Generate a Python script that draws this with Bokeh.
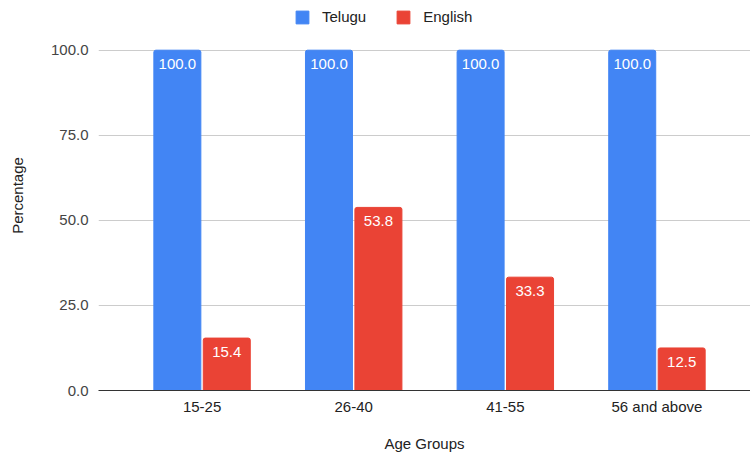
import numpy as np
from bokeh.plotting import figure
from bokeh.models import Range1d, FixedTicker, Legend, LegendItem, ColumnDataSource
from bokeh.core.properties import value
from bokeh.embed import file_html
from bokeh.resources import INLINE

categories = ["15-25", "26-40", "41-55", "56 and above"]
telugu = [100.0, 100.0, 100.0, 100.0]
english = [15.4, 53.8, 33.3, 12.5]
y_ticks = [0, 25, 50, 75, 100]

BLUE = "#4285F4"
RED = "#EA4335"
FONT = "Liberation Sans"
FS = "15px"

x = np.arange(len(categories))
p = figure(width=750, height=456, output_backend="svg", toolbar_location=None,
           x_range=Range1d(-0.683, 3.617), y_range=Range1d(0, 114.6),
           min_border_left=98, min_border_right=0, min_border_top=0, min_border_bottom=66)
p.outline_line_color = None

src_t = ColumnDataSource(dict(x=x - 0.163, top=telugu, lab=[f"{v:.1f}" for v in telugu]))
src_e = ColumnDataSource(dict(x=x + 0.163, top=english, lab=[f"{v:.1f}" for v in english]))
r1 = p.vbar(x="x", top="top", width=0.31, source=src_t, color=BLUE, border_radius=[2, 2, 0, 0])
r2 = p.vbar(x="x", top="top", width=0.31, source=src_e, color=RED, border_radius=[2, 2, 0, 0])
for s in (src_t, src_e):
    p.text(x="x", y="top", text="lab", source=s, text_color="white", text_font=value(FONT),
           text_font_size=FS, text_align="center", text_baseline="middle", y_offset=14)

p.xaxis.ticker = FixedTicker(ticks=list(x))
p.xaxis.major_label_overrides = {int(i): c for i, c in zip(x, categories)}
p.xaxis.major_tick_line_color = None
p.xaxis.minor_tick_line_color = None
p.xaxis.axis_line_color = "#333333"
p.xaxis.major_label_text_font = FONT
p.xaxis.major_label_text_font_size = FS
p.xaxis.major_label_text_color = "#222222"
p.xaxis.major_label_standoff = 1
p.xaxis.axis_label = "Age Groups"
p.xaxis.axis_label_text_font = FONT
p.xaxis.axis_label_text_font_size = FS
p.xaxis.axis_label_text_font_style = "normal"
p.xaxis.axis_label_text_color = "#222222"
p.xaxis.axis_label_standoff = 17
p.xgrid.grid_line_color = None

p.yaxis.ticker = FixedTicker(ticks=y_ticks)
p.yaxis.major_label_overrides = {t: f"{t:.1f}" for t in y_ticks}
p.yaxis.major_tick_line_color = None
p.yaxis.minor_tick_line_color = None
p.yaxis.axis_line_color = None
p.yaxis.major_label_text_font = FONT
p.yaxis.major_label_text_font_size = FS
p.yaxis.major_label_text_color = "#444444"
p.yaxis.major_label_standoff = 4
p.yaxis.axis_label = "Percentage"
p.yaxis.axis_label_text_font = FONT
p.yaxis.axis_label_text_font_size = FS
p.yaxis.axis_label_text_font_style = "normal"
p.yaxis.axis_label_text_color = "#222222"
p.yaxis.axis_label_standoff = 22
p.ygrid.grid_line_color = "#cccccc"

legend = Legend(items=[LegendItem(label="Telugu", renderers=[r1]), LegendItem(label="English", renderers=[r2])],
                orientation="horizontal", location=(196, 365), border_line_color=None,
                background_fill_alpha=0, label_text_font=FONT, label_text_font_size=FS,
                label_text_color="#222222", glyph_width=16, glyph_height=16, spacing=29,
                padding=2, margin=0, label_standoff=12)
p.add_layout(legend)

open("out.html", "w").write(file_html(p, INLINE))
